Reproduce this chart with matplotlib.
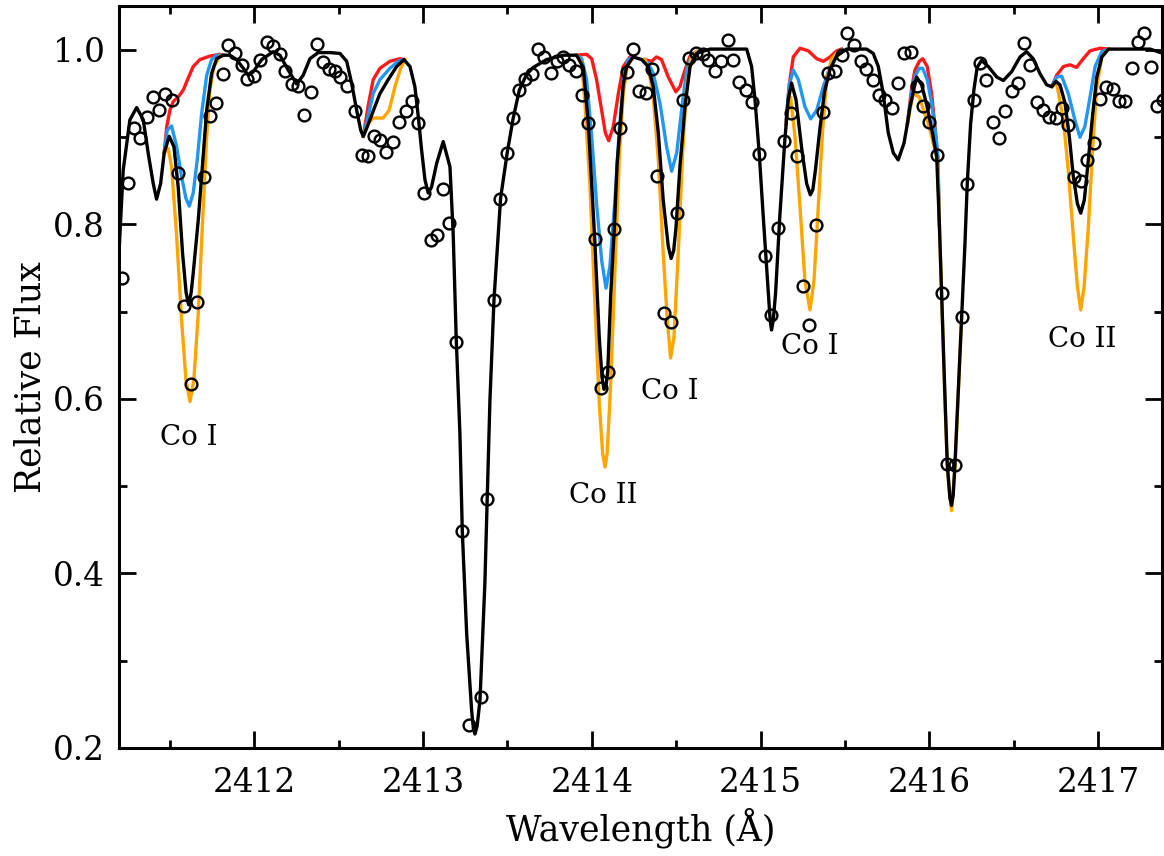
import numpy as np
import matplotlib
matplotlib.use("Agg")
import matplotlib.pyplot as plt
from matplotlib.ticker import MultipleLocator

plt.rcParams['font.family'] = ['DejaVu Serif']

# observed spectrum (open circles)
obs_wave = [2411.213, 2411.252, 2411.288, 2411.321, 2411.365, 2411.397, 2411.436, 2411.471,
            2411.509, 2411.548, 2411.582, 2411.622, 2411.661, 2411.701, 2411.736, 2411.772,
            2411.811, 2411.845, 2411.884, 2411.924, 2411.954, 2411.997, 2412.033, 2412.072,
            2412.111, 2412.151, 2412.181, 2412.220, 2412.260, 2412.295, 2412.335, 2412.372,
            2412.408, 2412.442, 2412.477, 2412.507, 2412.550, 2412.596, 2412.635, 2412.671,
            2412.708, 2412.744, 2412.779, 2412.819, 2412.858, 2412.896, 2412.932, 2412.971,
            2413.005, 2413.044, 2413.080, 2413.119, 2413.155, 2413.194, 2413.232, 2413.271,
            2413.341, 2413.380, 2413.420, 2413.455, 2413.495, 2413.534, 2413.570, 2413.603,
            2413.647, 2413.679, 2413.716, 2413.756, 2413.791, 2413.831, 2413.866, 2413.904,
            2413.940, 2413.979, 2414.018, 2414.054, 2414.094, 2414.133, 2414.167, 2414.206,
            2414.242, 2414.279, 2414.319, 2414.358, 2414.388, 2414.427, 2414.467, 2414.503,
            2414.538, 2414.576, 2414.615, 2414.657, 2414.690, 2414.730, 2414.765, 2414.805,
            2414.838, 2414.872, 2414.913, 2414.951, 2414.992, 2415.026, 2415.062, 2415.105,
            2415.141, 2415.180, 2415.214, 2415.253, 2415.289, 2415.328, 2415.368, 2415.401,
            2415.441, 2415.481, 2415.514, 2415.554, 2415.593, 2415.625, 2415.664, 2415.702,
            2415.737, 2415.777, 2415.813, 2415.850, 2415.890, 2415.925, 2415.961, 2415.998,
            2416.044, 2416.073, 2416.107, 2416.152, 2416.192, 2416.225, 2416.265, 2416.300,
            2416.336, 2416.376, 2416.413, 2416.449, 2416.488, 2416.524, 2416.561, 2416.597,
            2416.637, 2416.672, 2416.711, 2416.749, 2416.785, 2416.824, 2416.858, 2416.897,
            2416.937, 2416.976, 2417.012, 2417.047, 2417.087, 2417.126, 2417.160, 2417.200,
            2417.235, 2417.274, 2417.312, 2417.348, 2417.383]
obs_flux = [0.739, 0.847, 0.911, 0.899, 0.923, 0.946, 0.931, 0.949,
            0.943, 0.859, 0.707, 0.617, 0.711, 0.854, 0.924, 0.939,
            0.973, 1.006, 0.997, 0.983, 0.967, 0.970, 0.988, 1.009,
            1.004, 0.995, 0.976, 0.961, 0.959, 0.926, 0.952, 1.007,
            0.986, 0.978, 0.976, 0.969, 0.959, 0.930, 0.880, 0.879,
            0.901, 0.897, 0.883, 0.894, 0.918, 0.930, 0.942, 0.916,
            0.836, 0.782, 0.788, 0.841, 0.802, 0.665, 0.449, 0.226,
            0.258, 0.485, 0.714, 0.829, 0.882, 0.922, 0.954, 0.967,
            0.972, 1.001, 0.992, 0.974, 0.987, 0.992, 0.983, 0.976,
            0.948, 0.916, 0.783, 0.613, 0.631, 0.795, 0.911, 0.975,
            1.001, 0.953, 0.951, 0.978, 0.855, 0.699, 0.688, 0.813,
            0.943, 0.991, 0.996, 0.995, 0.989, 0.976, 0.987, 1.011,
            0.989, 0.963, 0.954, 0.940, 0.881, 0.764, 0.696, 0.796,
            0.896, 0.928, 0.878, 0.730, 0.685, 0.799, 0.929, 0.974,
            0.976, 0.994, 1.020, 1.006, 0.987, 0.978, 0.966, 0.948,
            0.943, 0.933, 0.962, 0.996, 0.998, 0.959, 0.936, 0.917,
            0.880, 0.721, 0.525, 0.524, 0.694, 0.846, 0.943, 0.985,
            0.966, 0.917, 0.899, 0.930, 0.953, 0.962, 1.008, 0.983,
            0.940, 0.931, 0.923, 0.922, 0.933, 0.914, 0.854, 0.850,
            0.874, 0.893, 0.944, 0.958, 0.955, 0.942, 0.942, 0.979,
            1.009, 1.020, 0.980, 0.936, 0.943]

# best-fit synthetic spectrum (black)
fit_wave = [2411.197, 2411.222, 2411.262, 2411.302, 2411.341, 2411.370, 2411.400, 2411.420,
            2411.444, 2411.465, 2411.495, 2411.523, 2411.548, 2411.574, 2411.595, 2411.610,
            2411.625, 2411.637, 2411.667, 2411.693, 2411.717, 2411.746, 2411.776, 2411.815,
            2411.855, 2411.894, 2411.934, 2411.963, 2411.993, 2412.043, 2412.111, 2412.151,
            2412.200, 2412.250, 2412.289, 2412.329, 2412.378, 2412.448, 2412.507, 2412.547,
            2412.576, 2412.606, 2412.630, 2412.645, 2412.675, 2412.704, 2412.744, 2412.793,
            2412.843, 2412.886, 2412.922, 2412.951, 2412.971, 2412.991, 2413.011, 2413.030,
            2413.050, 2413.080, 2413.119, 2413.159, 2413.178, 2413.196, 2413.218, 2413.232,
            2413.258, 2413.287, 2413.298, 2413.307, 2413.320, 2413.337, 2413.366, 2413.380,
            2413.396, 2413.420,
            2413.459, 2413.499, 2413.534, 2413.570, 2413.613, 2413.653, 2413.732, 2413.831,
            2413.910, 2413.949, 2413.979, 2414.018, 2414.044, 2414.060, 2414.072, 2414.084,
            2414.094, 2414.112, 2414.133, 2414.150, 2414.167, 2414.186, 2414.206, 2414.245,
            2414.295, 2414.334, 2414.364, 2414.394, 2414.423, 2414.453, 2414.470, 2414.485,
            2414.499, 2414.522, 2414.552, 2414.582, 2414.621, 2414.700, 2414.918, 2414.947,
            2414.967, 2414.992, 2415.016, 2415.045, 2415.057, 2415.065, 2415.075, 2415.089,
            2415.114, 2415.144, 2415.164, 2415.184, 2415.210, 2415.244, 2415.273, 2415.295,
            2415.310, 2415.325, 2415.352, 2415.379, 2415.412, 2415.451, 2415.510, 2415.629,
            2415.668, 2415.698, 2415.727, 2415.757, 2415.787, 2415.816, 2415.850, 2415.870,
            2415.886, 2415.925, 2415.955, 2415.985, 2416.014, 2416.044, 2416.060, 2416.073,
            2416.090, 2416.107, 2416.122, 2416.132, 2416.142, 2416.152, 2416.170, 2416.192,
            2416.211, 2416.225, 2416.245, 2416.265, 2416.284, 2416.310, 2416.350, 2416.400,
            2416.439, 2416.488, 2416.538, 2416.577, 2416.616, 2416.656, 2416.696, 2416.726,
            2416.751, 2416.775, 2416.805, 2416.830, 2416.854, 2416.878, 2416.898, 2416.919,
            2416.943, 2416.969, 2416.993, 2417.023, 2417.062, 2417.309, 2417.387]
fit_flux = [0.767, 0.862, 0.920, 0.934, 0.920, 0.882, 0.847, 0.829,
            0.847, 0.882, 0.901, 0.889, 0.843, 0.767, 0.722, 0.708,
            0.722, 0.744, 0.805, 0.870, 0.931, 0.973, 0.990, 0.994,
            0.994, 0.989, 0.979, 0.971, 0.975, 0.989, 0.998, 0.994,
            0.977, 0.961, 0.971, 0.990, 0.997, 0.997, 0.996, 0.987,
            0.962, 0.931, 0.908, 0.901, 0.915, 0.930, 0.950, 0.966,
            0.981, 0.989, 0.981, 0.958, 0.924, 0.885, 0.851, 0.836,
            0.843, 0.870, 0.895, 0.866, 0.790, 0.670, 0.560, 0.449,
            0.331, 0.244, 0.222, 0.216, 0.225, 0.255, 0.389, 0.485,
            0.599, 0.714,
            0.830, 0.883, 0.922, 0.954, 0.972, 0.980, 0.989, 0.994,
            0.994, 0.980, 0.916, 0.780, 0.670, 0.625, 0.611, 0.615,
            0.631, 0.720, 0.795, 0.870, 0.911, 0.960, 0.981, 0.992,
            0.989, 0.981, 0.958, 0.905, 0.828, 0.775, 0.761, 0.770,
            0.797, 0.866, 0.935, 0.981, 0.996, 1.001, 1.001, 0.981,
            0.943, 0.882, 0.809, 0.725, 0.690, 0.679, 0.690, 0.721,
            0.809, 0.897, 0.943, 0.962, 0.943, 0.887, 0.847, 0.834,
            0.840, 0.862, 0.910, 0.952, 0.978, 0.993, 1.001, 1.001,
            0.996, 0.981, 0.950, 0.905, 0.882, 0.874, 0.893, 0.915,
            0.935, 0.969, 0.960, 0.937, 0.910, 0.878, 0.800, 0.721,
            0.620, 0.525, 0.487, 0.478, 0.490, 0.524, 0.600, 0.694,
            0.775, 0.846, 0.915, 0.955, 0.980, 0.988, 0.981, 0.969,
            0.965, 0.975, 0.992, 0.998, 0.990, 0.973, 0.960, 0.958,
            0.964, 0.960, 0.939, 0.901, 0.855, 0.824, 0.813, 0.828,
            0.874, 0.927, 0.969, 0.992, 1.001, 1.001, 0.996]

# models with other Co abundances, only where they leave the black curve
# (nan separates the line windows)
red_wave = [2411.465, 2411.480, 2411.499, 2411.519, 2411.548, 2411.578, 2411.608, 2411.637,
            2411.677, 2411.736, 2411.795, 2411.815, np.nan,
            2412.645, 2412.675, 2412.704, 2412.744, 2412.803, 2412.862, 2412.886, np.nan,
            2413.910, 2413.969, 2413.999, 2414.028, 2414.058, 2414.080, 2414.100, 2414.127,
            2414.157, 2414.186, 2414.226, 2414.245, np.nan,
            2414.314, 2414.354, 2414.383, 2414.413, 2414.453, 2414.498, 2414.522, 2414.552,
            2414.582, 2414.621, np.nan,
            2415.150, 2415.170, 2415.194, 2415.234, 2415.283, 2415.333, 2415.372, 2415.412,
            2415.451, 2415.480, np.nan,
            2415.870, 2415.895, 2415.915, 2415.941, 2415.961, 2415.988, 2416.014, 2416.034,
            2416.050, 2416.060, np.nan,
            2416.726, 2416.755, 2416.795, 2416.834, 2416.873, 2416.913, 2416.953, 2417.012,
            2417.062]
red_flux = [0.882, 0.912, 0.931, 0.941, 0.946, 0.954, 0.968, 0.981,
            0.989, 0.993, 0.995, 0.994, np.nan,
            0.901, 0.937, 0.966, 0.979, 0.987, 0.990, 0.989, np.nan,
            0.994, 0.995, 0.990, 0.966, 0.931, 0.905, 0.896, 0.912,
            0.950, 0.981, 0.992, 0.992, np.nan,
            0.989, 0.987, 0.992, 0.989, 0.969, 0.952, 0.958, 0.977,
            0.993, 0.998, np.nan,
            0.915, 0.960, 0.992, 1.002, 0.999, 0.990, 0.987, 0.992,
            0.999, 1.001, np.nan,
            0.915, 0.955, 0.977, 0.987, 0.990, 0.981, 0.950, 0.912,
            0.876, 0.800, np.nan,
            0.958, 0.971, 0.981, 0.983, 0.980, 0.990, 0.999, 1.002,
            1.001]

blue_wave = [2411.465, 2411.483, 2411.509, 2411.539, 2411.568, 2411.594, 2411.614, 2411.637,
             2411.661, 2411.687, 2411.717, 2411.746, 2411.776, 2411.815, np.nan,
             2412.645, 2412.675, 2412.704, 2412.744, 2412.803, 2412.852, 2412.886, np.nan,
             2413.910, 2413.940, 2413.969, 2413.999, 2414.028, 2414.058, 2414.084, 2414.107,
             2414.137, 2414.162, 2414.190, 2414.216, 2414.245, np.nan,
             2414.314, 2414.334, 2414.364, 2414.404, 2414.443, 2414.473, 2414.503, 2414.532,
             2414.562, 2414.592, 2414.621, np.nan,
             2415.150, 2415.170, 2415.194, 2415.224, 2415.263, 2415.297, 2415.333, 2415.372,
             2415.412, 2415.451, 2415.480, np.nan,
             2415.870, 2415.895, 2415.915, 2415.941, 2415.961, 2415.988, 2416.014, 2416.040,
             2416.052, 2416.060, np.nan,
             2416.726, 2416.755, 2416.785, 2416.824, 2416.863, 2416.893, 2416.922, 2416.953,
             2416.983, 2417.022, 2417.062]
blue_flux = [0.882, 0.908, 0.913, 0.889, 0.855, 0.830, 0.821, 0.836,
             0.874, 0.927, 0.971, 0.989, 0.994, 0.994, np.nan,
             0.901, 0.925, 0.950, 0.966, 0.979, 0.987, 0.989, np.nan,
             0.994, 0.990, 0.966, 0.901, 0.824, 0.759, 0.727, 0.752,
             0.828, 0.908, 0.969, 0.989, 0.992, np.nan,
             0.989, 0.985, 0.973, 0.939, 0.889, 0.861, 0.882, 0.931,
             0.977, 0.994, 0.998, np.nan,
             0.915, 0.960, 0.977, 0.966, 0.935, 0.921, 0.931, 0.958,
             0.981, 0.994, 1.000, np.nan,
             0.915, 0.950, 0.970, 0.979, 0.979, 0.966, 0.939, 0.901,
             0.876, 0.800, np.nan,
             0.958, 0.969, 0.970, 0.950, 0.920, 0.900, 0.912, 0.946,
             0.981, 0.998, 1.001]

orange_wave = [2411.465, 2411.489, 2411.509, 2411.539, 2411.568, 2411.594, 2411.618, 2411.641,
               2411.667, 2411.693, 2411.717, 2411.736, 2411.760, 2411.795, 2411.815, np.nan,
               2412.645, 2412.675, 2412.704, 2412.734, 2412.763, 2412.799, 2412.833, 2412.867,
               2412.892, np.nan,
               2413.910, 2413.940, 2413.959, 2413.989, 2414.018, 2414.044, 2414.064, 2414.078,
               2414.091, 2414.111, 2414.137, 2414.162, 2414.186, 2414.210, 2414.245, np.nan,
               2414.314, 2414.334, 2414.364, 2414.394, 2414.423, 2414.447, 2414.467, 2414.487,
               2414.512, 2414.538, 2414.562, 2414.586, 2414.621, np.nan,
               2415.150, 2415.165, 2415.178, 2415.204, 2415.234, 2415.263, 2415.293, 2415.317,
               2415.342, 2415.368, 2415.392, 2415.421, 2415.461, 2415.480, np.nan,
               2415.870, 2415.905, 2415.941, 2415.970, 2416.000, 2416.029, 2416.050, 2416.060,
               2416.073, 2416.090, 2416.107, 2416.132, 2416.152, 2416.170, 2416.192, np.nan,
               2416.726, 2416.755, 2416.795, 2416.824, 2416.854, 2416.878, 2416.898, 2416.918,
               2416.943, 2416.969, 2416.993, 2417.023, 2417.062]
orange_flux = [0.882, 0.887, 0.866, 0.786, 0.691, 0.622, 0.597, 0.622,
               0.698, 0.805, 0.901, 0.954, 0.981, 0.993, 0.994, np.nan,
               0.901, 0.916, 0.922, 0.922, 0.922, 0.931, 0.958, 0.979,
               0.989, np.nan,
               0.994, 0.985, 0.939, 0.843, 0.710, 0.595, 0.538, 0.522,
               0.538, 0.614, 0.748, 0.874, 0.950, 0.981, 0.992, np.nan,
               0.989, 0.981, 0.946, 0.874, 0.767, 0.691, 0.647, 0.671,
               0.767, 0.882, 0.958, 0.989, 0.998, np.nan,
               0.915, 0.935, 0.946, 0.901, 0.820, 0.736, 0.702, 0.736,
               0.820, 0.908, 0.966, 0.990, 0.998, 1.000, np.nan,
               0.915, 0.950, 0.946, 0.929, 0.912, 0.889, 0.870, 0.800,
               0.721, 0.615, 0.520, 0.472, 0.520, 0.598, 0.694, np.nan,
               0.958, 0.962, 0.920, 0.862, 0.786, 0.729, 0.702, 0.729,
               0.797, 0.889, 0.958, 0.992, 1.001]

# line identifications
line_labels = ["Co I", "Co II", "Co I", "Co I", "Co II"]
label_wave = [2411.61, 2414.07, 2414.46, 2415.29, 2416.905]
label_flux = [0.556, 0.489, 0.608, 0.660, 0.668]

fig = plt.figure(figsize=(11.64, 8.56), dpi=100)
ax = fig.add_axes([0.1022, 0.1262, 0.896, 0.8668])

lw = 2.4
ax.plot(red_wave, red_flux, color='#ff1a1a', lw=lw, solid_joinstyle='round')
ax.plot(blue_wave, blue_flux, color='#2196f3', lw=lw, solid_joinstyle='round')
ax.plot(orange_wave, orange_flux, color='#ffa500', lw=lw, solid_joinstyle='round')
ax.plot(fit_wave, fit_flux, color='black', lw=lw, solid_joinstyle='round')
ax.plot(obs_wave, obs_flux, 'o', mfc='none', mec='black', ms=8.5, mew=1.7)

for lab, xw, yf in zip(line_labels, label_wave, label_flux):
    ax.text(xw, yf, lab, ha='center', va='center', fontsize=20)

ax.set_xlim(2411.197, 2417.379)
ax.set_ylim(0.2, 1.0504)
ax.xaxis.set_major_locator(MultipleLocator(1))
ax.xaxis.set_minor_locator(MultipleLocator(0.5))
ax.yaxis.set_major_locator(MultipleLocator(0.2))
ax.yaxis.set_minor_locator(MultipleLocator(0.1))
ax.xaxis.set_major_formatter(plt.FormatStrFormatter('%d'))
ax.yaxis.set_major_formatter(plt.FormatStrFormatter('%.1f'))
ax.tick_params(which='both', direction='in', top=True, right=True, width=2, labelsize=23.5)
ax.tick_params(axis='x', which='major', length=12.5, pad=14)
ax.tick_params(axis='y', which='major', length=12.5, pad=10)
ax.tick_params(which='minor', length=6)
for s in ax.spines.values():
    s.set_linewidth(2.2)

ax.set_xlabel("Wavelength (Å)", fontsize=25, labelpad=6)
ax.set_ylabel("Relative Flux", fontsize=25, labelpad=4)

fig.savefig("out.png", dpi=100)
